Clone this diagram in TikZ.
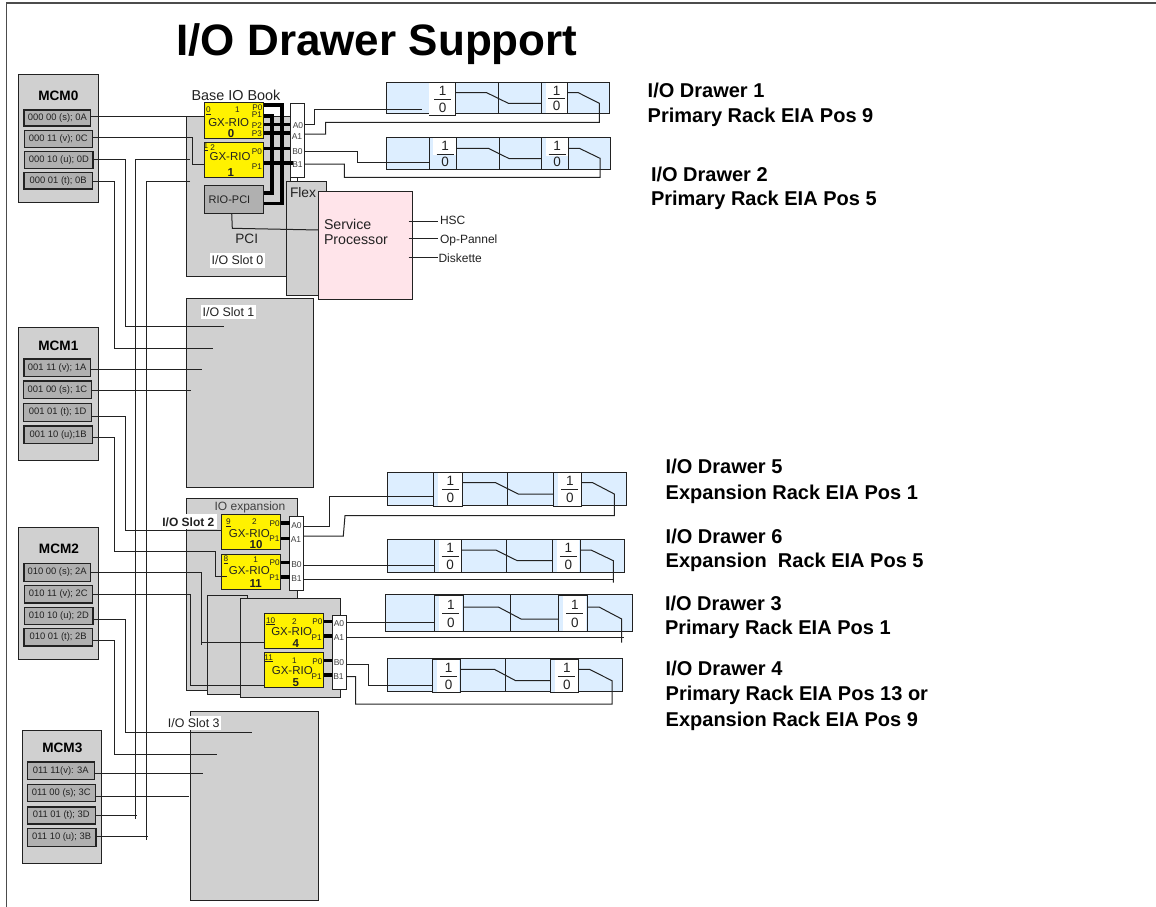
\documentclass[tikz,border=0pt]{standalone}
\usepackage{fontspec}
\setmainfont{Liberation Sans}
\newcommand\fs[1]{\fontsize{#1}{#1}\selectfont}
\definecolor{boxgray}{HTML}{D0D0D0}
\definecolor{portgray}{HTML}{B0B0B0}
\definecolor{drawerblue}{HTML}{DDEEFF}
\definecolor{sppink}{HTML}{FFE4EA}
\definecolor{ink}{HTML}{222222}
\tikzset{
  x=1pt,y=-1pt,
  cell/.style={draw=ink,line width=1pt,inner sep=0pt,outer sep=0pt,rectangle},
  grayblock/.style={cell,fill=boxgray},
  portbox/.style={cell,fill=portgray,line width=1.2pt,font=\fs{9.4},text=ink},
  gxbox/.style={cell,fill=yellow},
  whitebar/.style={cell,fill=white},
  drawerbox/.style={cell,fill=drawerblue},
  switchbox/.style={cell,fill=drawerblue},
  wire/.style={draw=ink,line width=1pt,line join=miter},
  bus/.style={draw=black,line width=3.6pt,line cap=butt,line join=miter},
  lbl/.style={inner sep=0pt,outer sep=0pt,text=ink},
  tiny/.style={lbl,font=\fs{8.2}},
  gxt/.style={lbl,font=\fs{11.5}},
  gxn/.style={lbl,font=\bfseries\fs{11.5}},
  pin/.style={lbl,font=\fs{8.5},text=black!75},
  slotlbl/.style={lbl,fill=white,font=\fs{12.4},text=ink},
  mcmlbl/.style={lbl,font=\bfseries\fs{13.6},text=black},
  head/.style={lbl,anchor=west,font=\bfseries\fs{20},text=black},
  small/.style={lbl,font=\fs{12},anchor=west},
}
% name, style, x1,y1,x2,y2, text
\newcommand\bx[7]{%
  \pgfmathsetmacro\bxw{#5-#3}\pgfmathsetmacro\bxh{#6-#4}%
  \pgfmathsetmacro\bxx{(#3+#5)/2}\pgfmathsetmacro\bxy{(#4+#6)/2}%
  \node[#2,minimum width=\bxw pt,minimum height=\bxh pt] (#1) at (\bxx,\bxy) {#7};}
% switch: name, x1,y1,x2,y2, white inset, white bottom
\newcommand\sw[7]{%
  \bx{#1}{switchbox}{#2}{#3}{#4}{#5}{}%
  \pgfmathsetmacro\swl{#2+#6}\pgfmathsetmacro\swc{(#2+#6+#4)/2}%
  \pgfmathsetmacro\swh{#5-#3}%
  \pgfmathsetmacro\swa{#3+.26*\swh}\pgfmathsetmacro\swb{#3+.52*\swh}\pgfmathsetmacro\swd{#3+.77*\swh}%
  \pgfmathsetmacro\swrl{\swc-8.5}\pgfmathsetmacro\swrr{\swc+8.5}%
  \fill[white] (\swl,#3+.6) rectangle (#4-.6,#7);
  \draw[ink,line width=.9pt] (\swrl,\swb) -- (\swrr,\swb);
  \node[lbl,font=\fs{13.5}] (#1-one) at (\swc,\swa) {1};
  \node[lbl,font=\fs{13.5}] (#1-zero) at (\swc,\swd) {0};}
\begin{document}
\begin{tikzpicture}
\useasboundingbox (0,0) rectangle (1156,907);
\fill[white] (0,0) rectangle (1156,907);
\draw[black!70,line width=1.6pt] (6.5,907) -- (6.5,3) -- (1156,3);
\node[lbl,font=\bfseries\fs{44},text=black] (title) at (377,44.5) {I/O Drawer Support};

% ---------- MCMs
\bx{mcm0}{grayblock}{18}{74}{98.5}{202}{}
\bx{mcm1}{grayblock}{18}{327.3}{98.7}{460.7}{}
\bx{mcm2}{grayblock}{18}{527}{98.7}{659.3}{}
\bx{mcm3}{grayblock}{22.3}{730.3}{101.7}{863}{}
\node[mcmlbl] (mcm0t) at (58.3,96) {MCM0};
\node[mcmlbl] (mcm1t) at (58.3,345.7) {MCM1};
\node[mcmlbl] (mcm2t) at (59,549) {MCM2};
\node[mcmlbl] (mcm3t) at (62.3,748) {MCM3};
\bx{p0a}{portbox}{24}{110}{90.7}{126}{000 00 (s); 0A}
\bx{p0c}{portbox}{24.3}{130.3}{92.3}{147.3}{000 11 (v); 0C}
\bx{p0d}{portbox}{24.7}{151.3}{93}{168.3}{000 10 (u); 0D}
\bx{p0b}{portbox}{24}{172.3}{92.3}{189}{000 01 (t); 0B}
\bx{p1a}{portbox}{24}{359}{90.3}{376.7}{001 11 (v); 1A}
\bx{p1c}{portbox}{23.3}{381}{91.7}{398.7}{001 00 (s); 1C}
\bx{p1d}{portbox}{23.7}{403.7}{91.7}{421.3}{001 01 (t); 1D}
\bx{p1b}{portbox}{24}{426}{92.3}{443.7}{001 10 (u);1B}
\bx{p2a}{portbox}{24}{563.7}{90.3}{581.3}{010 00 (s); 2A}
\bx{p2c}{portbox}{24.3}{585.3}{92.3}{603}{010 11 (v); 2C}
\bx{p2d}{portbox}{24.7}{607.3}{93}{624.7}{010 10 (u); 2D}
\bx{p2b}{portbox}{24}{628.3}{92.3}{646}{010 01 (t); 2B}
\bx{p3a}{portbox}{27.3}{762}{94.3}{779.7}{011 11(v): 3A}
\bx{p3c}{portbox}{27.3}{784.3}{95.3}{801.7}{011 00 (s); 3C}
\bx{p3d}{portbox}{27.3}{807}{95.3}{824}{011 01 (t); 3D}
\bx{p3b}{portbox}{27.3}{828.7}{96}{846.3}{011 10 (u); 3B}

% ---------- slots
\bx{slot0}{grayblock}{186}{116.7}{290}{276.7}{}
\bx{slot1}{grayblock}{186}{298.7}{313.3}{487.7}{}
\bx{slot2}{grayblock}{186}{498.3}{297.7}{690.7}{}
\bx{slot2b}{grayblock}{207.3}{595}{247.3}{694}{}
\bx{slot2c}{grayblock}{240}{598.7}{340}{697.3}{}
\bx{slot3}{grayblock}{190.7}{711.7}{318}{900}{}
\node[slotlbl,minimum width=55pt,minimum height=14.4pt] (s0l) at (237.5,260.5) {I/O Slot 0};
\node[slotlbl,minimum width=55pt,minimum height=14pt] (s1l) at (228.5,312) {I/O Slot 1};
\node[slotlbl,minimum width=54pt,minimum height=14pt] (s3l) at (193.7,723) {I/O Slot 3};
\node[slotlbl,font=\bfseries\fs{12},minimum width=56.7pt,minimum height=15pt] (s2l) at (188.4,521.8) {I/O Slot 2};
\node[lbl,font=\fs{12},text=black!75] (s2e) at (250,507.3) {IO expansion};
\node[lbl,font=\fs{14.4}] (base) at (236,95.5) {Base IO Book};
\node[lbl,font=\fs{13.6}] (pci) at (246.7,239) {PCI};

% ---------- base book
\bx{gx0}{gxbox}{204}{102.7}{263.7}{138.3}{}
\bx{gx1}{gxbox}{204}{142.3}{263.7}{177.3}{}
\bx{riopci}{cell,fill=portgray}{204}{185}{263.7}{213.3}{}
\node[lbl,font=\fs{11}] (riotx) at (229.5,199.5) {RIO-PCI};
\bx{flex}{grayblock}{286}{181.3}{326}{295}{}
\node[lbl,font=\fs{13.8},anchor=west] (flext) at (290,193) {Flex};
\bx{sp}{cell,fill=sppink}{318.7}{191.7}{412}{299.3}{}
\node[lbl,font=\fs{14.2},anchor=west] (spa) at (324,224) {Service};
\node[lbl,font=\fs{14.2},anchor=west] (spb) at (324,240) {Processor};
\bx{abox}{whitebar}{290}{103.7}{304}{177.3}{}
\draw[wire] (abox.south) -- (flex.north -| abox.south);

\node[tiny] (g0a) at (208.3,111) {\underline{0}};
\node[tiny] (g0b) at (237.3,110) {1};
\node[gxt] (g0c) at (228.7,122.3) {GX-RIO};
\node[gxn] (g0d) at (231,134) {0};
\node[tiny] (g0e) at (257.5,108) {P0};
\node[tiny] (g0f) at (257,115) {P1};
\node[tiny] (g0g) at (257,126) {P2};
\node[tiny] (g0h) at (257,133.3) {P3};
\node[tiny] (g1a) at (206,147) {\underline{1}};
\node[tiny] (g1b) at (212.7,147.3) {2};
\node[gxt] (g1c) at (230,156.7) {GX-RIO};
\node[gxn] (g1d) at (230.7,173) {1};
\node[tiny] (g1e) at (257,151.7) {P0};
\node[tiny] (g1f) at (257,166.7) {P1};

% buses base
\draw[bus] (gx0.east |- 0,105) -- (281.7,105) -- (281.7,203.3) -- (riopci.east |- 0,203.3);
\draw[bus] (gx0.east |- 0,116) -- (271.7,116) -- (271.7,192.7) -- (riopci.east |- 0,192.7);
\draw[bus] (gx0.east |- 0,124.3) -- (abox.west |- 0,124.3);
\draw[bus] (gx0.east |- 0,132.7) -- (abox.west |- 0,132.7);
\draw[bus] (gx1.east |- 0,148.3) -- (abox.west |- 0,148.3);
\draw[bus] (gx1.east |- 0,162.7) -- (293,162.7);
\node[pin] (a0) at (298,126) {A0};
\node[pin] (a1) at (297,137) {A1};
\node[pin] (b0) at (297.5,152) {B0};
\node[pin] (b1) at (297.5,165) {B1};

% service processor connectors
\coordinate (hsc) at (438,221.7);
\coordinate (opp) at (438,238);
\coordinate (dsk) at (438,257.3);
\draw[wire] (408.7,221.7) -- (hsc);
\draw[wire] (408.7,238) -- (opp);
\draw[wire] (408.7,257.3) -- (dsk);
\node[small] (hsct) at (440,220.5) {HSC};
\node[small] (oppt) at (440,240) {Op-Pannel};
\node[small] (dskt) at (438.5,258.5) {Diskette};
\draw[wire] (riopci.south -| 231.7,0) -- (232.3,228.3) -- (sp.west |- 0,230);

% ---------- expansion
\bx{gx10}{gxbox}{221.3}{514.7}{280.7}{549.3}{}
\bx{gx11}{gxbox}{221.3}{554.3}{280.7}{589.3}{}
\bx{gx4}{gxbox}{264.3}{613.3}{323.7}{648.3}{}
\bx{gx5}{gxbox}{264.3}{652.3}{323.7}{687.3}{}
\bx{cbox}{whitebar}{289.7}{516.7}{303.3}{590.7}{}
\bx{dbox}{whitebar}{332}{615}{346}{689.3}{}
\draw[bus] (gx10.east |- 0,522.7) -- (cbox.west |- 0,522.7);
\draw[bus] (gx10.east |- 0,538.3) -- (cbox.west |- 0,538.3);
\draw[bus] (gx11.east |- 0,562.3) -- (cbox.west |- 0,562.3);
\draw[bus] (gx11.east |- 0,576.7) -- (cbox.west |- 0,576.7);
\draw[bus] (gx4.east |- 0,621.3) -- (dbox.west |- 0,621.3);
\draw[bus] (gx4.east |- 0,636) -- (dbox.west |- 0,636);
\draw[bus] (gx5.east |- 0,660.3) -- (dbox.west |- 0,660.3);
\draw[bus] (gx5.east |- 0,675) -- (dbox.west |- 0,675);
\foreach \nm/\tx/\xx/\yy in {c0/A0/296.5/526,c1/A1/296/540,c2/B0/296.5/565,c3/B1/296.5/579,d0/A0/339/623.7,d1/A1/339/638,d2/B0/339/663,d3/B1/338.5/677}{
  \node[pin] (\nm) at (\xx,\yy) {\tx};}
\node[tiny] (h1) at (228.3,522.7) {\underline{9}};
\node[tiny] (h2) at (254.3,522) {2};
\node[gxt] (h3) at (249.3,534) {GX-RIO};
\node[gxn] (h4) at (256,545) {10};
\node[tiny] (h5) at (274.7,523.7) {P0};
\node[tiny] (h6) at (274.3,538.7) {P1};
\node[tiny] (i1) at (226,560) {\underline{8}};
\node[tiny] (i2) at (255.7,560) {1};
\node[gxt] (i3) at (249.3,570.3) {GX-RIO};
\node[gxn] (i4) at (255.7,583.7) {11};
\node[tiny] (i5) at (274.7,563) {P0};
\node[tiny] (i6) at (274.3,577.7) {P1};
\node[tiny] (j1) at (270.7,621.3) {\underline{10}};
\node[tiny] (j2) at (294.3,622) {2};
\node[gxt] (j3) at (291.7,632) {GX-RIO};
\node[gxn] (j4) at (295.7,644) {4};
\node[tiny] (j5) at (317.3,622) {P0};
\node[tiny] (j6) at (316.7,638) {P1};
\node[tiny] (k1) at (268.7,658.3) {\underline{11}};
\node[tiny] (k2) at (294.3,661) {1};
\node[gxt] (k3) at (292.3,671) {GX-RIO};
\node[gxn] (k4) at (295.7,683) {5};
\node[tiny] (k5) at (317.3,662) {P0};
\node[tiny] (k6) at (316.7,677) {P1};

% ---------- drawers
\bx{d1}{drawerbox}{386.3}{82.7}{609.3}{113.3}{}
\sw{d1a}{429.3}{82.7}{455.7}{115}{0}{114.5}
\sw{d1b}{541.7}{82.7}{567.7}{113.3}{4}{113}
\bx{d2}{drawerbox}{386.3}{137.7}{610.7}{169}{}
\sw{d2a}{429.3}{137.7}{456.7}{169}{4}{155}
\sw{d2b}{541.7}{137.7}{568.3}{169}{4}{156}
\bx{d5}{drawerbox}{387.7}{472.3}{626}{505.7}{}
\sw{d5a}{433.3}{472.3}{462.3}{506}{5}{505.5}
\sw{d5b}{553}{472.3}{581.7}{506}{5}{505.5}
\bx{d6}{drawerbox}{387.7}{539}{624}{572.3}{}
\sw{d6a}{434}{539}{461.7}{572.6}{4.5}{572.2}
\sw{d6b}{552.3}{539}{580}{572.6}{4.5}{572.2}
\bx{d3}{drawerbox}{385.7}{594.7}{632.7}{631.3}{}
\sw{d3a}{434}{595}{463}{631.3}{4.5}{631}
\sw{d3b}{558.3}{595}{587}{631.3}{4.5}{631}
\bx{d4}{drawerbox}{387}{658.7}{622.7}{691.7}{}
\sw{d4a}{432.7}{659}{460}{692}{4.5}{691.6}
\sw{d4b}{550.7}{659}{578.3}{692}{4.5}{691.6}
% dividers
\draw[wire] (498.3,82.7) -- (498.3,114);
\draw[wire] (499.3,137.7) -- (499.3,169);
\draw[wire] (507.3,472.3) -- (507.3,505.7);
\draw[wire] (506.7,539) -- (506.7,572.3);
\draw[wire] (510.7,594.7) -- (510.7,631.3);
\draw[wire] (505.3,658.7) -- (505.3,692);
% switch links
\draw[wire] (d1a.east |- 0,92.7) -- (486.7,92.7) -- (508.3,103.3) -- (d1b.west |- 0,103.3);
\draw[wire] (d2a.east |- 0,148.3) -- (488.3,148.3) -- (509.3,158.7) -- (d2b.west |- 0,158.7);
\draw[wire] (d5a.east |- 0,482.7) -- (495.7,482.7) -- (518.3,494) -- (d5b.west |- 0,494);
\draw[wire] (d6a.east |- 0,550) -- (495.7,550) -- (517.3,560.7) -- (d6b.west |- 0,560.7);
\draw[wire] (d3a.east |- 0,607) -- (498.3,607) -- (521,619) -- (d3b.west |- 0,619);
\draw[wire] (d4a.east |- 0,669.3) -- (494.3,669.3) -- (515.7,680.7) -- (d4b.west |- 0,680.7);

% box-to-drawer wires
\coordinate (d1end) at (421.7,109.3);
\draw[wire] (abox.east |- 0,124) -- (314,124) -- (314,109.3) -- (d1end);
\draw[wire] (abox.east |- 0,134) -- (325.7,134) -- (325.7,122.3) -- (599.3,122.3) -- (599.3,103.3) -- (578.3,92.7) -- (d1b.east |- 0,92.7);
\draw[wire] (abox.east |- 0,151) -- (357.3,151) -- (357.3,162.3) -- (d2a.west |- 0,162.3);
\draw[wire] (abox.east |- 0,164) -- (344.3,164) -- (344.3,177.3) -- (600,177.3) -- (600,158.3) -- (579.3,148.3) -- (d2b.east |- 0,148.3);
\draw[wire] (cbox.east |- 0,526.7) -- (329,526.7) -- (329,496.7) -- (d5a.west |- 0,496.7);
\draw[wire] (cbox.east |- 0,536) -- (343.3,536) -- (345,515.7) -- (614.3,515.7) -- (614.3,494) -- (592.7,482.7) -- (d5b.east |- 0,482.7);
\draw[wire] (cbox.east |- 0,565.7) -- (d6a.west |- 0,565.7);
\coordinate (d6end) at (613.3,582.7);
\draw[wire] (cbox.east |- 0,579.3) -- (613.3,579.3);
\draw[wire] (d6end) -- (613.3,560.7) -- (591,550) -- (d6b.east |- 0,550);
\draw[wire] (dbox.east |- 0,622.7) -- (d3a.west |- 0,622.7);
\coordinate (d3end) at (621.7,642.7);
\draw[wire] (dbox.east |- 0,637.7) -- (624,637.7);
\draw[wire] (d3end) -- (621.7,619) -- (599,607) -- (d3b.east |- 0,607);
\draw[wire] (dbox.east |- 0,664) -- (368.3,664) -- (368.3,685) -- (d4a.west |- 0,685);
\draw[wire] (dbox.east |- 0,676.7) -- (355.7,676.7) -- (355.7,704) -- (612,704) -- (612,680.7) -- (589.3,669.3) -- (d4b.east |- 0,669.3);

% ---------- MCM wires
\draw[wire] (p0a.east |- 0,116.7) -- (gx0.west |- 0,116.7);
\draw[wire] (p0c.east |- 0,137.7) -- (192.3,137.7) -- (192.3,164) -- (gx1.west |- 0,164);
\coordinate (e0d) at (224,326.7);
\draw[wire] (p0d.east |- 0,159) -- (125,159) -- (125,326.7) -- (e0d);
\coordinate (e0b) at (213.3,348.7);
\draw[wire] (p0b.east |- 0,181) -- (114.7,181) -- (114.7,348.7) -- (e0b);
\coordinate (e1a) at (202.3,369);
\draw[wire] (p1a.east |- 0,369) -- (e1a);
\coordinate (e1c) at (190.7,390.7);
\draw[wire] (p1c.east |- 0,390.7) -- (e1c);
\draw[wire] (p1d.east |- 0,416.7) -- (125.3,416.7) -- (125.3,530.3) -- (gx10.west |- 0,530.3);
\coordinate (e1b) at (226.5,576.5);
\draw[wire] (p1b.east |- 0,437.3) -- (114.7,437.3) -- (114.7,551.5) -- (215.5,551.5) -- (215.5,576.5) -- (e1b);
\draw[wire] (p2a.east |- 0,572.7) -- (201,572.7) -- (201,642.5) -- (gx4.west |- 0,642.5);
\draw[wire] (201,642.5) -- (201,644.5);
\draw[wire] (p2c.east |- 0,594.3) -- (190.7,594.3) -- (190.7,685) -- (gx5.west |- 0,685);
\coordinate (e2d) at (252.3,732.7);
\draw[wire] (p2d.east |- 0,619.3) -- (125.3,619.3) -- (125.3,732.7) -- (e2d);
\coordinate (e2b) at (217.3,754.7);
\draw[wire] (p2b.east |- 0,640.7) -- (114.7,640.7) -- (114.7,754.7) -- (e2b);
\coordinate (e3a) at (203,773);
\draw[wire] (p3a.east |- 0,773) -- (e3a);
\coordinate (e3c) at (189,796.7);
\draw[wire] (p3c.east |- 0,796.7) -- (e3c);
\coordinate (e3d) at (190,159);
\draw[wire] (e3d) -- (135.7,159) -- (135.7,818.5);
\draw[wire] (p3d.east |- 0,815.3) -- (136.7,815.3);
\coordinate (e3b) at (190,181);
\draw[wire] (e3b) -- (146.7,181) -- (146.7,840);
\draw[wire] (p3b.east |- 0,836.3) -- (147.7,836.3);

% ---------- right-hand titles
\node[head] (l1) at (647.7,90.7) {I/O Drawer 1};
\node[head] (l2) at (647.7,117.3) {Primary Rack EIA Pos 9};
\node[head] (l3) at (651,174.3) {I/O Drawer 2};
\node[head] (l4) at (651,200) {Primary Rack EIA Pos 5};
\node[head] (l5) at (665.7,466.7) {I/O Drawer 5};
\node[head] (l6) at (665.7,494) {Expansion Rack EIA Pos 1};
\node[head] (l7) at (665.7,536) {I/O Drawer 6};
\node[head] (l8) at (665.7,562.3) {Expansion\ \ Rack EIA Pos 5};
\node[head] (l9) at (665,603.3) {I/O Drawer 3};
\node[head] (l10) at (665,629.3) {Primary Rack EIA Pos 1};
\node[head] (l11) at (665.7,668.3) {I/O Drawer 4};
\node[head] (l12) at (665.7,695) {Primary Rack EIA Pos 13 or};
\node[head] (l13) at (665.7,721.7) {Expansion Rack EIA Pos 9};
\end{tikzpicture}
\end{document}
